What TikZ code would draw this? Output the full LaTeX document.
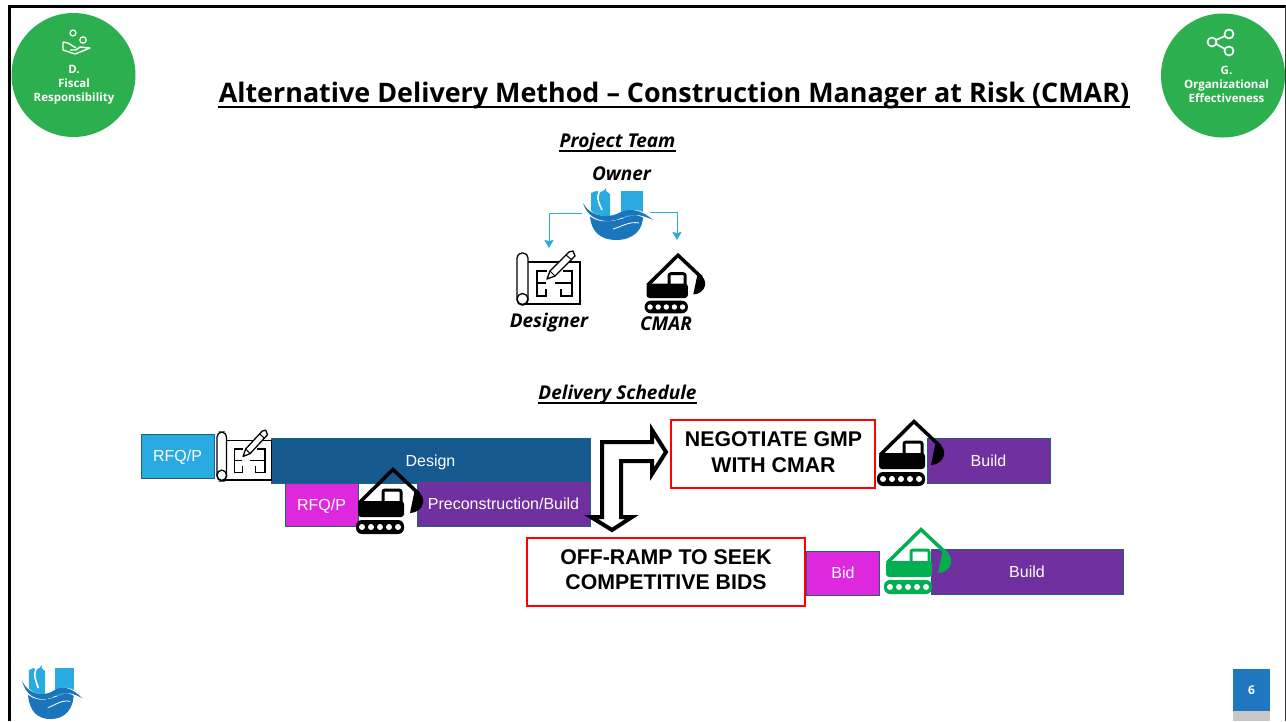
\documentclass[tikz,border=0pt]{standalone}
\usepackage{fontspec}
\setmainfont{Open Sans}
\newfontfamily\arialfont{Liberation Sans}
\usetikzlibrary{calc, arrows.meta, positioning}

\definecolor{badgeGreen}{HTML}{2CAF4E}
\definecolor{skyBlue}{HTML}{29ABE2}
\definecolor{seaBlue}{HTML}{1B75BB}
\definecolor{designBlue}{HTML}{15598F}
\definecolor{rfqMagenta}{HTML}{DE28DE}
\definecolor{buildPurple}{HTML}{7030A0}
\definecolor{boxEdge}{HTML}{1F5F7F}
\definecolor{digGreen}{HTML}{00B050}
\definecolor{pageBlue}{HTML}{1F78BF}

\tikzset{
  schedbox/.style={draw=boxEdge, line width=1pt, inner sep=0pt, text=white,
    font=\arialfont\fontsize{16}{18}\selectfont},
  redbox/.style={draw=red, line width=1.6pt, fill=white, inner sep=0pt},
  redtext/.style={inner sep=0pt, align=center,
    font=\arialfont\bfseries\fontsize{21.3}{25.5}\selectfont},
  headlabel/.style={inner sep=0pt, font=\bfseries\itshape\fontsize{19}{23}\selectfont},
  headrule/.style={line width=1.4pt},
  badgetext/.style={inner sep=0pt, text=white, align=center,
    font=\bfseries\fontsize{11.5}{14}\selectfont},
  flowline/.style={draw=skyBlue, line width=1pt, -{Stealth[length=8pt,width=9pt,inset=1pt]}},
  pics/excavator/.style={code={
    \draw[#1, line width=3.5pt, line join=miter] (-34,36) -- (0,2.5) -- (26,27);
    \fill[#1] (22,22) .. controls (29,26) and (31,32) .. (30,36)
      .. controls (29,42) and (23,46) .. (17,46) -- cycle;
    \fill[#1, rounded corners=3pt] (-35,34) rectangle (11,50);
    \draw[#1, line width=3pt, rounded corners=2pt] (-10,35) -- (-10,23) -- (8,23) -- (8,35);
    \fill[#1, rounded corners=6pt] (-37,53) rectangle (11,67);
    \foreach \hole in {-31,-22,-13,-4,5}
      \fill[white] (\hole,60) circle (3);
  }},
  pics/blueprint/.style={code={
    \draw[line width=1.3pt] (5,9) -- (63,9) -- (63,51) -- (5,51);
    \draw[line width=1.3pt, fill=white, rounded corners=5pt] (0,0) rectangle (11,52);
    \draw[line width=1.3pt, fill=white] (5.5,46) circle (5.5);
    % floor plan
    \draw[line width=1.3pt] (30,18) -- (20,18) -- (20,43) -- (29,43) -- (29,36)
      (20,30) -- (29,30) (38,30) -- (55,30)
      (46,18) -- (55,18) -- (55,43) -- (44,43) -- (44,36);
    % pencil
    \draw[line width=1.3pt, fill=white, line join=round] (30,26) -- (33,18) -- (52,-1) --
      (56,-2) -- (58,3) -- (38,23) -- cycle;
    \draw[line width=1pt] (49,2) -- (55,7) (33,18) -- (38,23);
  }},
  pics/logo/.style={code={
    \fill[skyBlue] (8,5) -- (13,3) .. controls (18,5) and (21,3) .. (23,0)
      .. controls (22,4) and (25,4) .. (27,6) -- (27,30) -- (8,25) -- cycle;
    \fill[skyBlue] (38,3) rectangle (60,30);
    \draw[white, line width=1.6pt] (19,1) .. controls (14,5) and (13,10) .. (19,22);
    \fill[seaBlue] (7,28) .. controls (25,40) and (40,28) .. (60,26)
      .. controls (61,42) and (50,52) .. (33,52) .. controls (18,52) and (8,44) .. (7,28) -- cycle;
    \draw[white, line width=5pt] (-1,15) .. controls (10,36) and (30,32) .. (40,26)
      .. controls (50,22) and (60,25) .. (71,33);
    \fill[seaBlue] (0,15) .. controls (9,31) and (28,30) .. (38,24)
      .. controls (48,19) and (60,23) .. (70,32)
      .. controls (60,27) and (50,25) .. (40,29)
      .. controls (28,36) and (6,35) .. (0,15) -- cycle;
    \draw[white, line width=.8pt] (30,41) .. controls (38,39) and (46,33) .. (56,35);
  }}
}

\begin{document}
\begin{tikzpicture}[x=1pt, y=-1pt, >=Stealth, thick]
  \useasboundingbox (0,0) rectangle (1286,721);
  \fill[white] (0,0) rectangle (1286,721);

  % --- Slide frame ---
  \draw[line width=3pt] (9.5,721) -- (9.5,6) -- (1286,6);
  \draw[black!80, line width=1pt] (1285.5,6) -- (1285.5,721);

  % --- Badges ---
  \node[circle, fill=badgeGreen, minimum size=124pt, inner sep=0pt] (fiscal) at (73.5,75) {};
  \node[circle, fill=badgeGreen, minimum size=124pt, inner sep=0pt] (org) at (1223,75.5) {};
  \node[badgetext] (fiscaltext) at (74,84.5) {D.\\Fiscal\\Responsibility};
  \node[badgetext] (orgtext) at (1226.5,84.5) {G.\\Organizational\\Effectiveness};

  % hand and coins
  \draw[white, line width=1.2pt] (73,33) circle (3) (83,40) circle (3.2);
  \draw[white, line width=1.4pt, line join=round] (63,42) -- (63,50) -- (75,54) -- (90,48) -- (80,47)
    -- (76,50) -- (70,50) (76,48) -- (68,43) -- (63,42);
  % share icon
  \draw[white, line width=1.7pt] (1229,34) circle (4.5) (1212,42) circle (4.5) (1229,51) circle (4.5)
    (1216,40) -- (1225,36) (1216,44) -- (1225,49);

  % --- Title and headings ---
  \node[inner sep=0pt, font=\bfseries\fontsize{26.9}{32}\selectfont] (title) at (674,96)
    {Alternative Delivery Method -- Construction Manager at Risk (CMAR)};
  \draw[headrule, line width=2pt] ($(title.base west)+(0,4)$) -- ($(title.base east)+(0,4)$);
  \node[headlabel] (team) at (617.5,143) {Project Team};
  \draw[headrule] ($(team.base west)+(0,3)$) -- ($(team.base east)+(0,3)$);
  \node[headlabel] (owner) at (621.5,174) {Owner};
  \node[headlabel] (designer) at (549,322.5) {Designer};
  \node[headlabel] (cmar) at (666,324) {CMAR};
  \node[headlabel] (schedule) at (617.5,395) {Delivery Schedule};
  \draw[headrule] ($(schedule.base west)+(0,3)$) -- ($(schedule.base east)+(0,3)$);

  % --- Project team ---
  \pic at (583,188) {logo};
  \pic at (517,253) {blueprint};
  \pic[scale=.9] at (678,253) {excavator={black}};
  \coordinate (ownerL) at (582,213);
  \coordinate (ownerR) at (650,212);
  \coordinate (designerT) at (549,248);
  \coordinate (cmarT) at (677,240);
  \draw[flowline] (ownerL) -| (designerT);
  \draw[flowline] (ownerR) -| (cmarT);

  % --- Schedule bars ---
  \node[schedbox, fill=skyBlue, text depth=0pt, minimum width=73pt, minimum height=44pt] (rfqA) at (177.5,456) {RFQ/P};
  \node[schedbox, fill=designBlue, text depth=0pt, minimum width=319pt, minimum height=45pt] (design) at (430.5,460.5) {Design};
  \node[schedbox, fill=rfqMagenta, text depth=0pt, minimum width=73pt, minimum height=43pt] (rfqB) at (321.5,504.5) {RFQ/P};
  \node[schedbox, fill=buildPurple, minimum width=173pt, minimum height=45pt] (precon) at (503.5,503.5) {Preconstruction/Build};
  \node[schedbox, fill=buildPurple, minimum width=123pt, minimum height=45pt] (buildA) at (988.5,460.5) {Build};
  \node[schedbox, fill=rfqMagenta, minimum width=73pt, minimum height=44pt] (bid) at (843,573) {Bid};
  \node[schedbox, fill=buildPurple, minimum width=192pt, minimum height=45pt] (buildB) at (1027,571.5) {Build};

  \node[redbox, minimum width=204pt, minimum height=68pt] (negotiate) at (773,454) {};
  \node[redtext] (negotiatetext) at (773.5,452) {NEGOTIATE GMP\\WITH CMAR};
  \node[redbox, minimum width=278pt, minimum height=68pt] (offramp) at (666,572) {};
  \node[redtext] (offramptext) at (666,569.5) {OFF-RAMP TO SEEK\\COMPETITIVE BIDS};

  % --- Icons on the bars ---
  \pic[xscale=.87, yscale=.94] at (217,432) {blueprint};
  \pic at (393,467) {excavator={black}};
  \pic at (914,419) {excavator={black}};
  \pic at (921,527) {excavator={digGreen}};

  % --- Split arrow ---
  \draw[line width=4pt, fill=white, line join=miter] (602,517) -- (602,442) -- (652,442) -- (652,430)
    -- (666,452) -- (652,474) -- (652,461) -- (621,461) -- (621,517) -- (632,517) -- (612,530)
    -- (591,517) -- cycle;

  % --- Footer ---
  \pic[xscale=.86, yscale=1.04] at (22,665) {logo};
  \node[fill=pageBlue, minimum width=37pt, minimum height=42pt, inner sep=0pt, text=white,
    font=\bfseries\fontsize{12}{14}\selectfont] (page) at (1251.5,690) {6};
  \fill[black!22] (1233,711) rectangle (1270,721);
\end{tikzpicture}
\end{document}
